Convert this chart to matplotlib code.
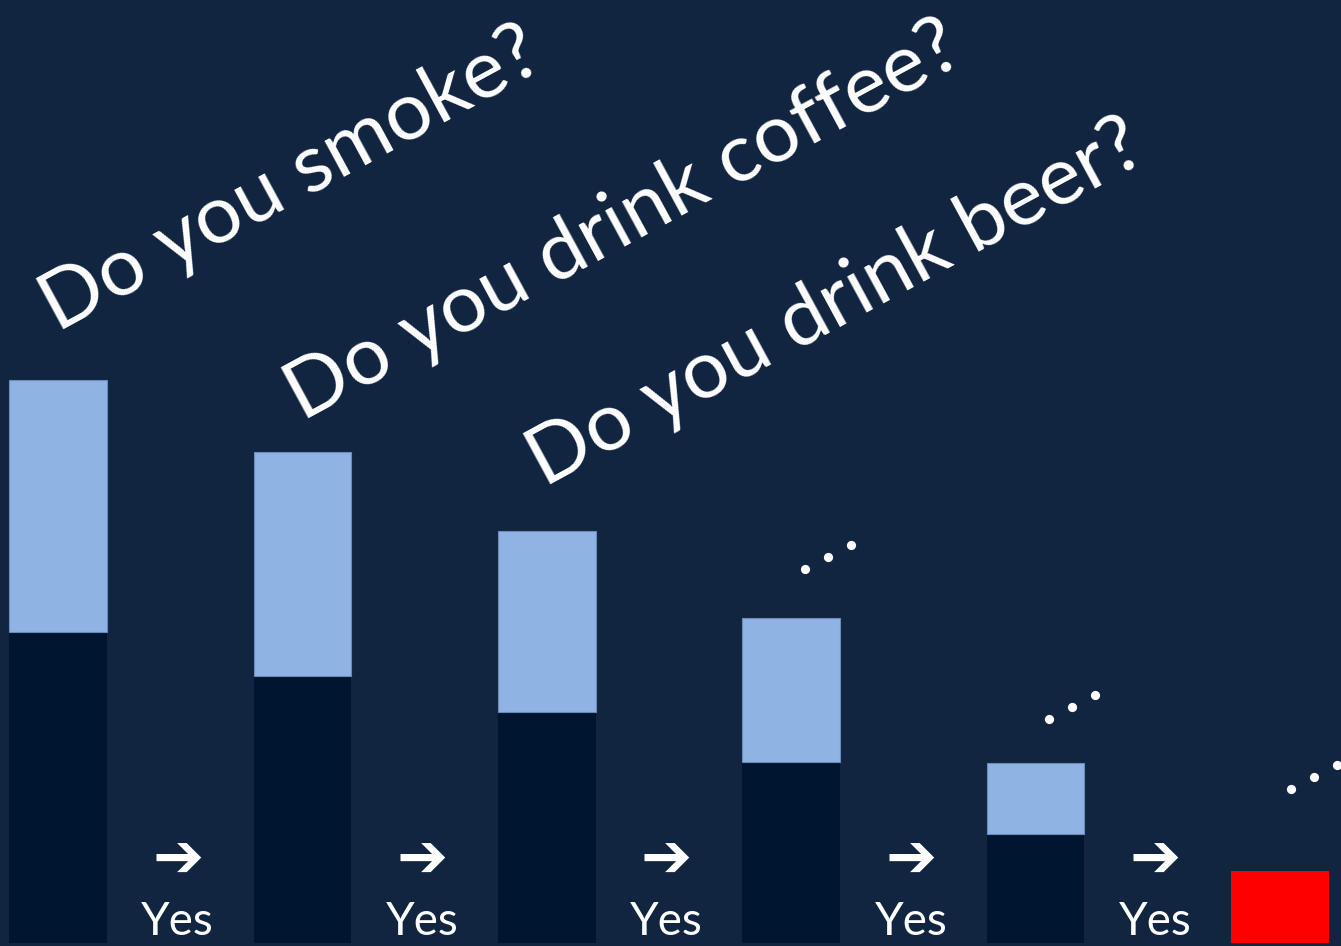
import numpy as np
import matplotlib
matplotlib.use("Agg")
import matplotlib.pyplot as plt

# bar heights (pixel-ish units)
steps = np.arange(6)
no_part = [311, 267, 231, 181, 109]      # dark bottom segment
yes_part = [252, 224, 181, 144, 71]      # light top segment
final_part = 72                          # red bar at the end

questions = ["Do you smoke?", "Do you drink coffee?", "Do you drink beer?"]
question_x = [-0.005, 1.0, 1.99]
question_y = [611, 522, 456]

# centre of each "..." (bar index units, height units)
dots_x = [3.15, 4.149, 5.139]
dots_y = [386, 236, 166]

bg = '#112540'
dark = '#00152f'
light = '#8fb3e3'
ang = 28.5

fig = plt.figure(figsize=(13.41, 9.46), dpi=100)
fig.patch.set_facecolor(bg)
ax = fig.add_axes([0, 0, 1, 1])
ax.set_facecolor(bg)

w = 0.4
ax.bar(steps[:5], no_part, width=w, color=dark, linewidth=0)
ax.bar(steps[:5], yes_part, bottom=no_part, width=w, color=light,
       edgecolor='#6a8cbd', linewidth=0.8)
ax.bar(steps[5], final_part, width=w, color='#ff0000', linewidth=0)

# arrows + "Yes" between bars
for i in range(5):
    ax.text(i + 0.49, 82, '➔', ha='center', va='center', color='white',
            fontsize=44, family='DejaVu Sans', fontweight='bold')
    ax.text(i + 0.49, 8, 'Yes', ha='center', va='baseline', color='white',
            fontsize=33, family='Lato')

# rotated questions
for q, x, y in zip(questions, question_x, question_y):
    ax.text(x, y, q, rotation=ang, rotation_mode='anchor', ha='left',
            va='baseline', color='white', fontsize=59, family='Lato')

# ellipses: three round dots along the same slant
step = 26  # px between dots
ddx = step * np.cos(np.radians(ang)) / 244.4
ddy = step * np.sin(np.radians(ang))
for x, y in zip(dots_x, dots_y):
    k = np.array([-1, 0, 1])
    ax.scatter(x + k * ddx, y + k * ddy, s=44, color='white', linewidths=0,
               clip_on=False)

ax.set_xlim(-0.2373, 5.2496)
ax.set_ylim(-3, 943)
ax.axis('off')

fig.savefig('out.png', dpi=100, facecolor=bg)
